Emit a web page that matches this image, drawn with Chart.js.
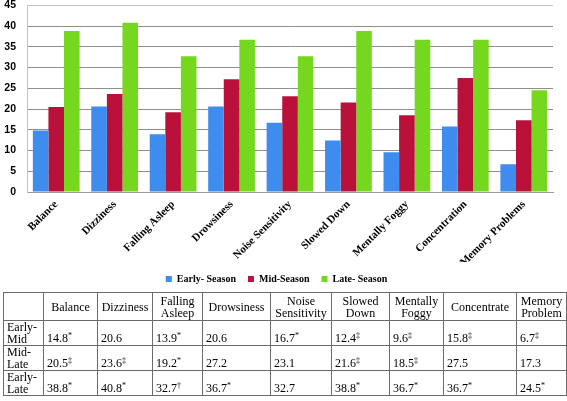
<!DOCTYPE html>
<html>
<head>
<meta charset="utf-8">
<script src="https://cdn.jsdelivr.net/npm/chart.js"></script>
<style>
  html, body { margin: 0; padding: 0; background: #fff; }
  #wrap { position: relative; width: 567px; height: 401px; overflow: hidden; }
  #chartBox { position: absolute; left: 0; top: -12px; width: 567px; height: 306px; }
  table.stats {
    position: absolute; left: 3px; top: 292px; width: 563px;
    border-collapse: collapse; table-layout: fixed; color: #000;
  }
  table.stats td, table.stats th {
    font-family: "Liberation Serif", "Times New Roman", Times, serif;
    font-size: 12px;
    border: 1px solid #6a6a6a; padding: 0 3px; line-height: 12px;
  }
  table.stats th { font-weight: normal; text-align: center; vertical-align: middle; height: 27px; padding: 0 1px; }
  table.stats td { vertical-align: bottom; text-align: left; height: 23px; padding-bottom: 1px; }
  table.stats td.rh { vertical-align: top; padding-bottom: 0; }
  sup { font-size: 8px; line-height: 0; vertical-align: 4px; }
</style>
</head>
<body>
<div id="wrap">
  <div id="chartBox"><canvas id="chart"></canvas></div>
  <table class="stats" id="stats"></table>
</div>
<script>
// --------------------------------------------------
//  Data
// --------------------------------------------------
var categories = ['Balance', 'Dizziness', 'Falling Asleep', 'Drowsiness', 'Noise Sensitivity',
                  'Slowed Down', 'Mentally Foggy', 'Concentration', 'Memory Problems'];
var earlySeason = [14.8, 20.6, 13.9, 20.6, 16.7, 12.4, 9.6, 15.8, 6.7];
var midSeason   = [20.5, 23.6, 19.2, 27.2, 23.1, 21.6, 18.5, 27.5, 17.3];
var lateSeason  = [38.8, 40.8, 32.7, 36.7, 32.7, 38.8, 36.7, 36.7, 24.5];
var seriesNames = ['Early- Season', 'Mid-Season', 'Late- Season'];
var yTicks = [0, 5, 10, 15, 20, 25, 30, 35, 40, 45];

// table
var tableHeaders = ['', 'Balance', 'Dizziness', 'Falling<br>Asleep', 'Drowsiness', 'Noise<br>Sensitivity',
                    'Slowed<br>Down', 'Mentally<br>Foggy', 'Concentrate', 'Memory<br>Problem'];
var rowLabels = ['Early-<br>Mid', 'Mid-<br>Late', 'Early-<br>Late'];
var earlyMidMarks = ['*', '', '*', '', '*', '‡', '‡', '‡', '‡'];
var midLateMarks  = ['‡', '‡', '*', '', '', '‡', '‡', '', ''];
var earlyLateMarks = ['*', '*', '†', '*', '', '*', '*', '*', '*'];
var colWidths = [40, 54, 55, 50, 68, 61, 58, 54, 73, 50];

var colors = ['#3d8cee', '#ba113b', '#76d71f'];

// --------------------------------------------------
//  Table
// --------------------------------------------------
function buildTable() {
    var rows = [earlySeason, midSeason, lateSeason];
    var marks = [earlyMidMarks, midLateMarks, earlyLateMarks];
    var html = '<colgroup>';
    colWidths.forEach(function (w) { html += '<col style="width:' + w + 'px">'; });
    html += '</colgroup><tr>';
    tableHeaders.forEach(function (h) { html += '<th>' + h + '</th>'; });
    html += '</tr>';
    rows.forEach(function (vals, r) {
        html += '<tr><td class="rh">' + rowLabels[r] + '</td>';
        vals.forEach(function (v, i) {
            var m = marks[r][i];
            html += '<td>' + v.toFixed(1) + (m ? '<sup>' + m + '</sup>' : '') + '</td>';
        });
        html += '</tr>';
    });
    document.getElementById('stats').innerHTML = html;
}
buildTable();

// --------------------------------------------------
//  Chart
// --------------------------------------------------
var serif = "'Liberation Serif', 'Times New Roman', serif";
var ctx = document.getElementById('chart').getContext('2d');
new Chart(ctx, {
    type: 'bar',
    data: {
        labels: categories,
        datasets: [earlySeason, midSeason, lateSeason].map(function (d, i) {
            return {
                label: seriesNames[i],
                data: d,
                backgroundColor: colors[i],
                borderWidth: 0,
                barPercentage: 1.0,
                categoryPercentage: 0.8
            };
        })
    },
    options: {
        responsive: true,
        maintainAspectRatio: false,
        animation: false,
        layout: { padding: { top: 4, right: 14, left: 0, bottom: 0 } },
        plugins: {
            tooltip: { enabled: false },
            legend: {
                position: 'bottom',
                labels: {
                    color: '#000',
                    font: { family: serif, size: 10, weight: 'bold' },
                    boxWidth: 6,
                    boxHeight: 6,
                    padding: 12
                }
            }
        },
        scales: {
            x: {
                grid: { display: false, drawTicks: false },
                border: { display: true, color: '#9a9a9a', width: 1 },
                ticks: {
                    color: '#000',
                    font: { family: serif, size: 11, weight: 'bold' },
                    minRotation: 45,
                    maxRotation: 45,
                    padding: 6,
                    autoSkip: false
                },
                afterFit: function (s) { s.height = 70; }
            },
            y: {
                min: 0,
                max: 45,
                afterBuildTicks: function (s) {
                    s.ticks = yTicks.map(function (v) { return { value: v }; });
                },
                grid: {
                    drawTicks: false,
                    color: function (c) {
                        if (c.tick && c.tick.value === 45) return '#c4c4c4';
                        if (c.tick && c.tick.value === 0) return 'rgba(0,0,0,0)';
                        return '#8f8f8f';
                    },
                    lineWidth: 1
                },
                border: { display: true, color: '#c4c4c4', width: 1 },
                ticks: {
                    color: '#000',
                    font: { family: "'Liberation Sans', Arial, sans-serif", size: 10.5, weight: 'bold' },
                    padding: 11
                },
                afterFit: function (s) { s.width = 27; }
            }
        }
    }
});
</script>
</body>
</html>
